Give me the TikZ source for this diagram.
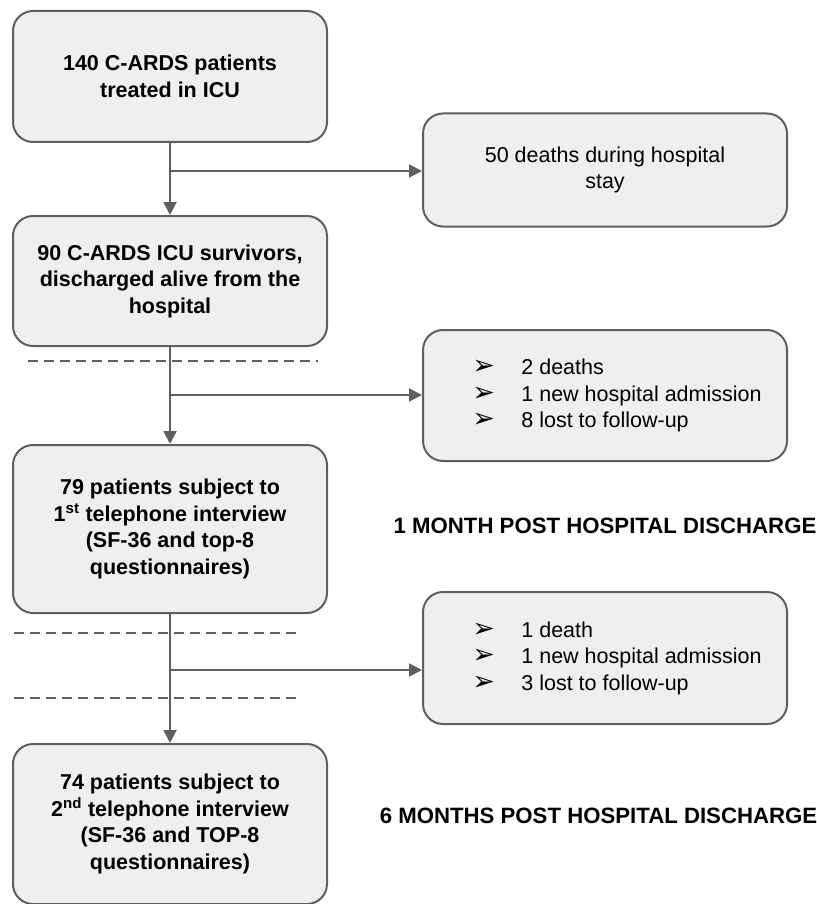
\documentclass[tikz,border=0pt]{standalone}
\usepackage{fontspec}
\setmainfont{Liberation Sans}
\newfontfamily\dejavu{DejaVu Sans}
\usetikzlibrary{positioning,arrows.meta}
\definecolor{boxfill}{HTML}{EFEFEF}
\definecolor{boxline}{HTML}{5F5F5F}
\newcommand{\bulletrow}[1]{\hspace*{24pt}\makebox[49pt][l]{\dejavu\fontsize{27}{26.5}\selectfont ➢}#1}

\begin{document}
\begin{tikzpicture}[x=1pt, y=1pt,
  box/.style={draw=boxline, fill=boxfill, line width=2pt, rounded corners=20pt,
    align=center, inner sep=0pt, font=\fontsize{21.5}{26.5}\selectfont},
  stagebox/.style={box, font=\bfseries\fontsize{21.5}{26.5}\selectfont, minimum width=314pt},
  lossbox/.style={box, minimum width=364pt},
  flow/.style={draw=boxline, line width=2pt, -{Triangle[length=13pt,width=13pt]}},
  cutline/.style={draw=boxline, line width=2pt, dash pattern=on 10pt off 6pt},
  period/.style={font=\bfseries\fontsize{22.2}{26.5}\selectfont}]
 \useasboundingbox (0,0) rectangle (816,-904);
 % left column
 \node[stagebox, minimum height=131pt] (icu) at (170,-76.5) {140 C-ARDS patients\\treated in ICU};
 \node[stagebox, minimum height=130pt, below=72pt of icu] (survivors) {90 C-ARDS ICU survivors,\\discharged alive from the\\hospital};
 \node[stagebox, minimum height=168pt, below=97pt of survivors] (interview1) {79 patients subject to\\1\textsuperscript{st} telephone interview\\(SF-36 and top-8\\questionnaires)};
 \node[stagebox, minimum height=160pt, below=129pt of interview1] (interview2) {74 patients subject to\\2\textsuperscript{nd} telephone interview\\(SF-36 and TOP-8\\questionnaires)};
 % right column
 \node[lossbox, minimum height=113pt] (deaths) at (605,-170) {50 deaths during hospital\\stay};
 \node[lossbox, minimum height=131pt, align=left] (loss1) at (605,-395.5) {\bulletrow{2 deaths}\\\bulletrow{1 new hospital admission}\\\bulletrow{8 lost to follow-up}};
 \node[lossbox, minimum height=132pt, align=left] (loss2) at (605,-658) {\bulletrow{1 death}\\\bulletrow{1 new hospital admission}\\\bulletrow{3 lost to follow-up}};
 % follow-up periods
 \node[period] (month1) at (605,-526) {1 MONTH POST HOSPITAL DISCHARGE};
 \node[period] (month6) at (598.5,-816) {6 MONTHS POST HOSPITAL DISCHARGE};
 % split points
 \coordinate[below=28pt of icu.south] (split1);
 \coordinate[below=48pt of survivors.south] (split2);
 \coordinate[below=56pt of interview1.south] (split3);
 \draw[flow] (icu) -- (survivors);
 \draw[flow] (survivors) -- (interview1);
 \draw[flow] (interview1) -- (interview2);
 \draw[flow] (split1) -- (split1 -| deaths.west);
 \draw[flow] (split2) -- (split2 -| loss1.west);
 \draw[flow] (split3) -- (split3 -| loss2.west);
 % separators
 \draw[cutline] (28,-361) -- (318,-361);
 \draw[cutline] (14,-633) -- (302,-633);
 \draw[cutline] (14,-698) -- (302,-698);
\end{tikzpicture}
\end{document}
